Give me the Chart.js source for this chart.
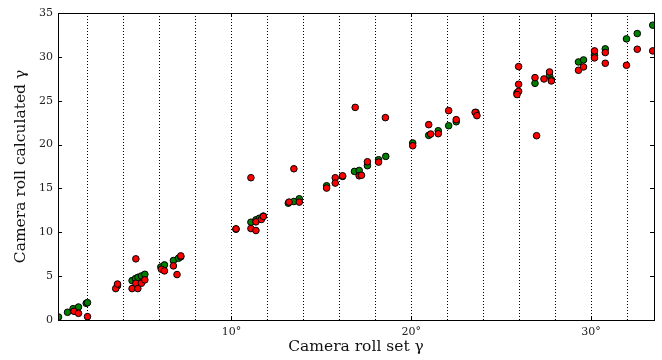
<!DOCTYPE html>
<html>
<head>
<meta charset="utf-8">
<script src="https://cdn.jsdelivr.net/npm/chart.js@4.4.0/dist/chart.umd.min.js"></script>
<style>
html,body{margin:0;padding:0;background:#fff;}
#wrap{width:662px;height:360px;position:relative;}
</style>
</head>
<body>
<div id="wrap"><canvas id="c" width="662" height="360"></canvas></div>
<script>
// Camera roll set (x) and calculated (y), degrees
const greenX = [0.38,0.88,1.19,1.49,1.92,1.99,3.66,4.47,4.66,4.80,4.99,5.18,6.07,6.27,6.77,7.05,7.18,10.25,11.08,11.36,11.55,11.77,13.16,13.47,13.77,15.29,16.18,16.84,17.10,17.56,18.18,18.58,20.08,20.97,21.50,22.08,22.50,23.60,25.88,26.88,27.69,27.79,29.30,29.58,30.19,30.79,31.97,32.57,33.43];
const greenY = [0.34,0.88,1.29,1.48,1.90,1.98,3.90,4.49,4.72,4.87,5.02,5.21,6.05,6.28,6.78,7.04,7.20,10.35,11.15,11.42,11.60,11.85,13.32,13.51,13.82,15.30,16.37,16.94,17.05,17.59,18.27,18.65,20.18,21.05,21.58,22.15,22.60,23.67,25.90,26.98,27.86,27.40,29.42,29.65,30.20,30.91,32.05,32.66,33.61];
const redX = [1.24,1.49,1.99,3.56,3.66,4.47,4.68,4.68,4.79,4.99,5.18,6.10,6.27,6.77,6.97,7.18,10.25,11.08,11.08,11.36,11.36,11.66,11.77,13.20,13.47,13.77,15.29,15.77,15.77,16.18,16.88,17.10,17.23,17.56,18.18,18.56,20.08,20.97,21.08,21.50,22.08,22.50,23.55,23.65,25.97,25.97,25.97,25.88,26.88,26.97,27.38,27.69,27.79,29.30,29.58,30.19,30.19,30.79,30.79,31.97,32.57,33.43];
const redY = [0.99,0.76,0.38,3.58,4.10,3.58,4.19,6.97,3.58,4.19,4.57,5.79,5.60,6.17,5.18,7.31,10.39,10.43,16.22,10.20,11.19,11.46,11.80,13.44,17.24,13.44,15.04,16.22,15.61,16.44,24.24,16.44,16.50,18.04,18.00,23.07,19.87,22.27,21.20,21.24,23.87,22.84,23.67,23.30,28.89,26.87,26.07,25.70,27.63,21.01,27.48,28.28,27.25,28.47,28.85,30.68,29.88,30.49,29.27,29.04,30.87,30.68];
const xGridValues = [2,4,6,8,10,12,14,16,18,20,22,24,26,28,30,32];
const xLabelValues = [10,20,30];
const yTickValues = [0,5,10,15,20,25,30,35];

const toPts = (xs, ys) => xs.map((x, i) => ({x: x, y: ys[i]}));

const serif = "'DejaVu Serif', 'Liberation Serif', serif";

const frame = {
  id: 'frame',
  afterDraw(chart) {
    const {ctx, chartArea: a, scales: {x, y}} = chart;
    ctx.save();
    ctx.strokeStyle = '#000';
    ctx.lineWidth = 1;
    ctx.strokeRect(Math.round(a.left) + 0.5, Math.round(a.top) + 0.5, Math.round(a.right - a.left), Math.round(a.bottom - a.top));
    ctx.beginPath();
    yTickValues.forEach(v => {
      const py = Math.round(y.getPixelForValue(v)) + 0.5;
      ctx.moveTo(a.left, py); ctx.lineTo(a.left + 4, py);
      ctx.moveTo(a.right, py); ctx.lineTo(a.right - 4, py);
    });
    xLabelValues.forEach(v => {
      const px = Math.round(x.getPixelForValue(v)) + 0.5;
      ctx.moveTo(px, a.bottom); ctx.lineTo(px, a.bottom - 4);
      ctx.moveTo(px, a.top); ctx.lineTo(px, a.top + 4);
    });
    ctx.stroke();
    ctx.restore();
  }
};

new Chart(document.getElementById('c'), {
  type: 'scatter',
  data: {
    datasets: [
      {label: 'green', order: 2, data: toPts(greenX, greenY), backgroundColor: '#008000', borderColor: '#000', borderWidth: 1, pointRadius: 3.3, pointHoverRadius: 3.3},
      {label: 'red', order: 1, data: toPts(redX, redY), backgroundColor: '#ff0000', borderColor: '#000', borderWidth: 1, pointRadius: 3.3, pointHoverRadius: 3.3}
    ]
  },
  options: {
    responsive: false,
    animation: false,
    events: [],
    layout: {padding: {left: 0, right: 8, top: 13, bottom: 0}},
    plugins: {legend: {display: false}, tooltip: {enabled: false}},
    scales: {
      x: {
        type: 'linear', min: 0.35, max: 33.5,
        afterBuildTicks: s => { s.ticks = xGridValues.map(v => ({value: v})); },
        afterFit: s => { s.height = 40; },
        grid: {color: '#000', lineWidth: 1, drawTicks: false},
        border: {display: false, dash: [1, 2]},
        ticks: {
          autoSkip: false, maxRotation: 0, padding: 6, color: '#222',
          font: {family: serif, size: 11},
          callback: v => xLabelValues.includes(v) ? v + '°' : ''
        },
        title: {display: true, text: 'Camera roll set γ', color: '#111', font: {family: serif, size: 15.5}, padding: {top: 2, bottom: 4}}
      },
      y: {
        type: 'linear', min: 0, max: 35,
        afterBuildTicks: s => { s.ticks = yTickValues.map(v => ({value: v})); },
        afterFit: s => { s.width = 58; },
        grid: {display: false, drawTicks: false},
        border: {display: false},
        ticks: {padding: 5, color: '#222', font: {family: serif, size: 11}},
        title: {display: true, text: 'Camera roll calculated γ', color: '#111', font: {family: serif, size: 15.5}, padding: {top: 12, bottom: 4}}
      }
    }
  },
  plugins: [frame]
});
</script>
</body>
</html>
